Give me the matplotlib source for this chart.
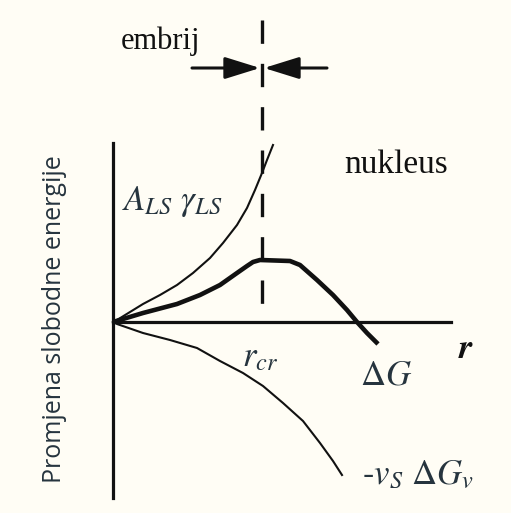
import matplotlib
matplotlib.use("Agg")
import matplotlib.pyplot as plt

plt.rcParams['mathtext.fontset'] = 'stix'
plt.rcParams['font.family'] = ['Liberation Serif', 'DejaVu Serif']

r_surf = [0, 0.04, 0.17, 0.30, 0.47, 0.64, 0.80, 0.97, 1.10, 1.24, 1.34, 1.42, 1.49, 1.54, 1.60]
G_surf = [0, 0.02, 0.10, 0.18, 0.27, 0.37, 0.49, 0.64, 0.79, 0.97, 1.14, 1.32, 1.49, 1.62, 1.77]

r_tot = [0, 0.30, 0.64, 0.87, 1.07, 1.24, 1.34, 1.40, 1.47, 1.77, 1.87, 2.04, 2.20, 2.34, 2.44, 2.54, 2.65]
G_tot = [0, 0.09, 0.18, 0.27, 0.37, 0.49, 0.56, 0.60, 0.62, 0.61, 0.57, 0.42, 0.27, 0.12, 0.0, -0.11, -0.22]

r_vol = [0, 0.04, 0.30, 0.57, 0.84, 1.07, 1.30, 1.50, 1.70, 1.90, 2.07, 2.20, 2.29]
G_vol = [0, -0.02, -0.11, -0.18, -0.26, -0.39, -0.51, -0.64, -0.81, -0.99, -1.21, -1.39, -1.53]

r_cr = 1.49
ink = '#111111'
lab = '#26343e'

fig = plt.figure(figsize=(5.11, 5.13), dpi=100, facecolor='#fffdf5')
ax = fig.add_axes([0, 0, 1, 1])
ax.set_facecolor('#fffdf5')
ax.set_xlim(-1.13, 3.98)
ax.set_ylim(-1.91, 3.22)
ax.axis('off')

# axes
ax.plot([0, 0], [-1.76, 1.79], color=ink, lw=2.3)
ax.plot([0, 3.38], [0, 0], color=ink, lw=2.3)

# critical radius, dashes counted from the top
ax.plot([r_cr, r_cr], [3.02, 0], color=ink, lw=2.4, dashes=(7, 6))

# curves
ax.plot(r_surf, G_surf, color=ink, lw=1.5, solid_joinstyle='round')
ax.plot(r_tot, G_tot, color=ink, lw=3.3, solid_joinstyle='round', solid_capstyle='butt')
ax.plot(r_vol, G_vol, color=ink, lw=1.5, solid_joinstyle='round')

# embryo arrows
arr = dict(arrowstyle='-|>,head_length=0.9,head_width=0.28', color=ink, lw=2.2,
           mutation_scale=24, shrinkA=0, shrinkB=0)
ax.annotate('', xy=(r_cr - 0.02, 2.54), xytext=(0.79, 2.54), arrowprops=arr)
ax.annotate('', xy=(r_cr + 0.02, 2.54), xytext=(2.14, 2.54), arrowprops=arr)

ax.text(0.47, 2.81, 'embrij', fontsize=22, color=ink, ha='center', va='center')
ax.text(2.83, 1.57, 'nukleus', fontsize=24, color=ink, ha='center', va='center')
ax.text(0.59, 1.20, r'$A_{LS}\ \gamma_{LS}$', fontsize=25, color=lab, ha='center', va='center')
ax.text(1.47, -0.36, r'$r_{cr}$', fontsize=25, color=lab, ha='center', va='center')
ax.text(2.73, -0.54, r'$\Delta G$', fontsize=25, color=lab, ha='center', va='center')
ax.text(3.53, -0.28, r'$\boldsymbol{r}$', fontsize=25, color=ink, ha='center', va='center')
ax.text(2.49, -1.54, r'$\text{-}v_S\ \Delta G_v$', fontsize=25, color=lab, ha='left', va='center')

ax.text(-0.58, 0.03, 'Promjena slobodne energije', fontsize=18, color=lab,
        family=['Open Sans', 'DejaVu Sans'], rotation=90, ha='center', va='center')

fig.savefig('out.png', dpi=100, facecolor=fig.get_facecolor())
